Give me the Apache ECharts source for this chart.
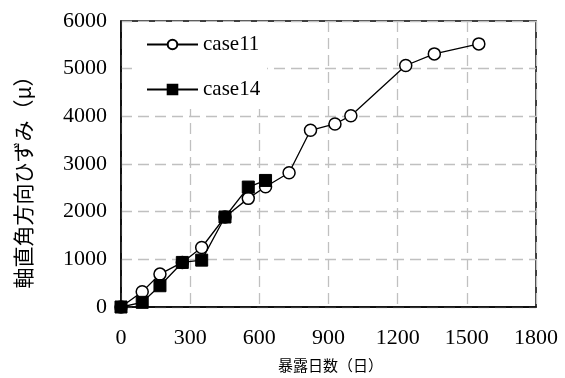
<!DOCTYPE html>
<html>
<head>
<meta charset="utf-8">
<script src="https://cdn.jsdelivr.net/npm/echarts@6/dist/echarts.min.js"></script>
<style>html,body{margin:0;padding:0;background:#fff}#c{width:565px;height:378px}</style>
</head>
<body>
<div id="c"></div>
<script>
// Data
const case11Days = [0, 92, 169, 266, 350, 451, 552, 627, 729, 822, 928, 997, 1235, 1359, 1552];
const case11Strain = [0, 320, 690, 935, 1248, 1888, 2279, 2523, 2816, 3707, 3840, 4014, 5066, 5310, 5520];
const case14Days = [0, 92, 169, 266, 350, 451, 552, 627];
const case14Strain = [0, 98, 446, 935, 983, 1888, 2516, 2655];
const seriesNames = ['case11', 'case14'];
const xName = '暴露日数（日）';
const yName = '軸直角方向ひずみ（μ）';

const serif = "'Liberation Serif', 'Noto Sans CJK JP', serif";
const pair = (xs, ys) => xs.map((x, i) => [x, ys[i]]);
const gridLine = { show: true, lineStyle: { color: '#c0c0c0', width: 1.3, type: [11, 6] } };
const plain = v => String(v);

const chart = echarts.init(document.getElementById('c'), null, { renderer: 'canvas' });
chart.setOption({
  animation: false,
  backgroundColor: '#fff',
  grid: { left: 121, right: 29, top: 21, bottom: 70, show: true, borderColor: '#000', borderWidth: 1.5, backgroundColor: 'transparent' },
  legend: {
    orient: 'vertical', left: 133, top: 22,
    padding: [12, 7, 9, 13],
    backgroundColor: '#fff',
    itemWidth: 51, itemHeight: 12, itemGap: 24,
    textStyle: { fontFamily: serif, fontSize: 21, color: '#000' },
    data: seriesNames
  },
  xAxis: {
    type: 'value', min: 0, max: 1800, interval: 300,
    name: xName, nameLocation: 'middle', nameGap: 51,
    nameTextStyle: { fontFamily: "'Noto Sans CJK JP', sans-serif", fontSize: 15, color: '#000', padding: [0, 0, 0, 4] },
    axisLine: { show: true, lineStyle: { color: '#000', width: 1.5 } },
    axisTick: { show: false },
    axisLabel: { fontFamily: serif, fontSize: 22, color: '#000', margin: 20, formatter: plain },
    splitLine: gridLine
  },
  yAxis: {
    type: 'value', min: 0, max: 6000, interval: 1000,
    name: yName, nameLocation: 'middle', nameGap: 87, nameRotate: 90,
    nameTextStyle: { fontFamily: "'Noto Sans CJK JP', sans-serif", fontSize: 21, color: '#000', padding: [0, 26, 0, 0] },
    axisLine: { show: true, lineStyle: { color: '#000', width: 1.5 } },
    axisTick: { show: false },
    axisLabel: { fontFamily: serif, fontSize: 22, color: '#000', margin: 14, formatter: plain },
    splitLine: gridLine
  },
  series: [
    {
      name: seriesNames[0], type: 'line', data: pair(case11Days, case11Strain),
      symbol: 'circle', symbolSize: 12,
      lineStyle: { color: '#000', width: 1.3 },
      itemStyle: { color: '#fff', borderColor: '#000', borderWidth: 1.5 },
      z: 3
    },
    {
      name: seriesNames[1], type: 'line', data: pair(case14Days, case14Strain),
      symbol: 'rect', symbolSize: 12,
      lineStyle: { color: '#000', width: 1.3 },
      itemStyle: { color: '#000', borderColor: '#000', borderWidth: 1 },
      z: 4
    }
  ]
});
</script>
</body>
</html>
